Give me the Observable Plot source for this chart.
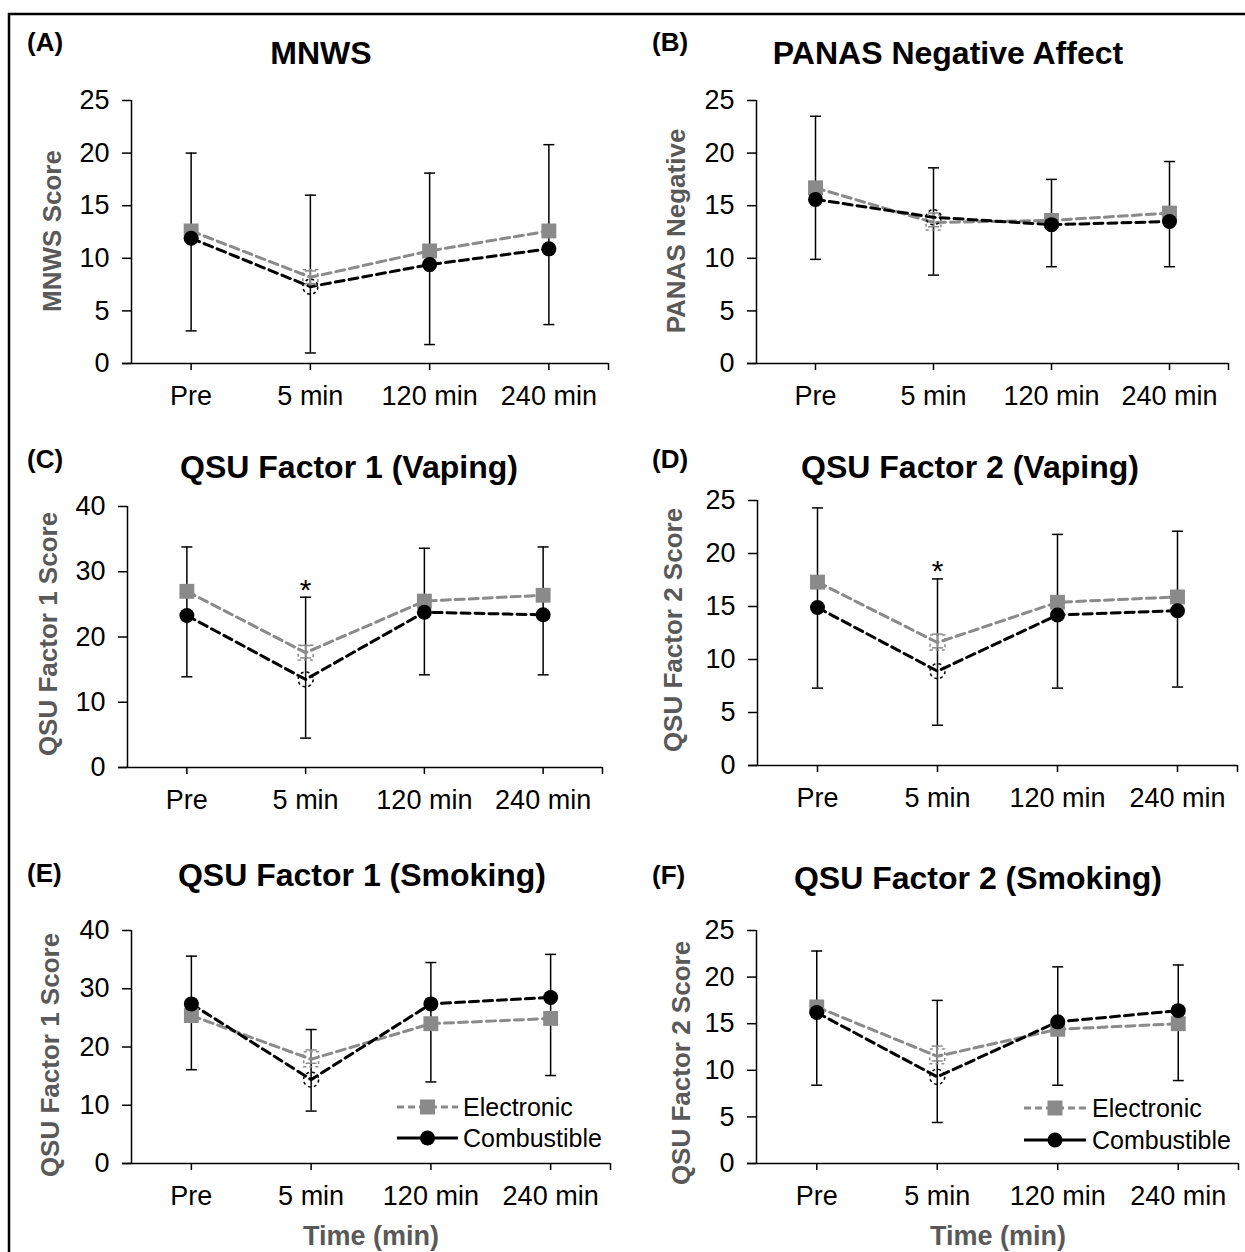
<!DOCTYPE html>
<html>
<head>
<meta charset="utf-8">
<script src="https://cdn.jsdelivr.net/npm/d3@7"></script>
<script src="https://cdn.jsdelivr.net/npm/@observablehq/plot@0.6"></script>
<style>
  body { margin: 0; background: #fff; }
  #fig { position: relative; width: 1245px; height: 1252px; background: #fff; overflow: hidden;
         font-family: "Liberation Sans", Arial, sans-serif; }
  .abs { position: absolute; white-space: nowrap; line-height: 1; }
  .title { font-weight: bold; font-size: 32px; color: #000; transform: translate(-50%, -50%); }
  .letter { font-weight: bold; font-size: 26px; color: #000; transform: translate(0, -50%); }
  .ylab { font-weight: bold; font-size: 26px; color: #595959; transform: translate(-50%, -50%) rotate(-90deg); }
  .xlab { font-weight: bold; font-size: 27px; color: #595959; transform: translate(-50%, -50%); }
  svg.panel { position: absolute; overflow: visible; }
</style>
</head>
<body>
<div id="fig"></div>
<script>
// ---------------- data ----------------
const categories = ["Pre", "5 min", "120 min", "240 min"];
const seriesNames = ["Electronic", "Combustible"];

const panelIds   = ["A", "B", "C", "D", "E", "F"];
const titles     = ["MNWS", "PANAS Negative Affect", "QSU Factor 1 (Vaping)", "QSU Factor 2 (Vaping)", "QSU Factor 1 (Smoking)", "QSU Factor 2 (Smoking)"];
const yLabels    = ["MNWS Score", "PANAS Negative", "QSU Factor 1  Score", "QSU Factor 2  Score", "QSU Factor 1  Score", "QSU Factor 2  Score"];
const yMax       = [25, 25, 40, 25, 40, 25];
const yTickStep  = [5, 5, 10, 5, 10, 5];
const xAxisTitle = [null, null, null, null, "Time (min)", "Time (min)"];

// Electronic (gray squares) means
const elecA = [12.6, 8.2, 10.7, 12.6];
const elecB = [16.7, 13.4, 13.6, 14.3];
const elecC = [27.0, 17.6, 25.5, 26.4];
const elecD = [17.3, 11.6, 15.4, 15.9];
const elecE = [25.4, 17.9, 24.0, 24.9];
const elecF = [16.8, 11.5, 14.4, 15.0];

// Combustible (black circles) means
const combA = [11.9, 7.3, 9.4, 10.9];
const combB = [15.6, 13.9, 13.2, 13.5];
const combC = [23.3, 13.5, 23.8, 23.4];
const combD = [14.9, 8.9, 14.2, 14.6];
const combE = [27.4, 14.4, 27.4, 28.5];
const combF = [16.2, 9.3, 15.2, 16.4];

// Error bars (black): lower / upper ends
const errLoA = [3.1, 1.0, 1.8, 3.7],  errHiA = [20.0, 16.0, 18.1, 20.8];
const errLoB = [9.9, 8.4, 9.2, 9.2],  errHiB = [23.5, 18.6, 17.5, 19.2];
const errLoC = [13.9, 4.5, 14.2, 14.2], errHiC = [33.8, 26.1, 33.6, 33.8];
const errLoD = [7.3, 3.8, 7.3, 7.4],  errHiD = [24.3, 17.6, 21.8, 22.1];
const errLoE = [16.1, 9.0, 14.0, 15.1], errHiE = [35.6, 23.0, 34.5, 35.9];
const errLoF = [8.4, 4.4, 8.4, 8.9],  errHiF = [22.8, 17.5, 21.1, 21.3];

// Small gray error bars of Electronic (visible only at the open 5-min marker)
const eErrLoA = [null, 7.6, null, null],  eErrHiA = [null, 8.8, null, null];
const eErrLoB = [null, 13.0, null, null], eErrHiB = [null, 14.3, null, null];
const eErrLoC = [null, 16.8, null, null], eErrHiC = [null, 18.7, null, null];
const eErrLoD = [null, 11.1, null, null], eErrHiD = [null, 12.4, null, null];
const eErrLoE = [null, 17.2, null, null], eErrHiE = [null, 19.5, null, null];
const eErrLoF = [null, 11.0, null, null], eErrHiF = [null, 12.6, null, null];

// Significance markers (category, y value)
const starCategory = "5 min";
const starValues = [null, null, 28.4, 19.1, null, null];
const openMarkerCategory = "5 min";

const elec = [elecA, elecB, elecC, elecD, elecE, elecF];
const comb = [combA, combB, combC, combD, combE, combF];
const errLo = [errLoA, errLoB, errLoC, errLoD, errLoE, errLoF];
const errHi = [errHiA, errHiB, errHiC, errHiD, errHiE, errHiF];
const eErrLo = [eErrLoA, eErrLoB, eErrLoC, eErrLoD, eErrLoE, eErrLoF];
const eErrHi = [eErrHiA, eErrHiB, eErrHiC, eErrHiD, eErrHiE, eErrHiF];

// ---------------- layout (pixels) ----------------
const layout = [
  {axisX: 131, xEnd: 608,  yTop: 100, y0: 363,  tx: 321, ty: 53,  lx: 27,  ly: 42,  ylx: 52,  yly: 231,  xtx: 0,   xty: 0},
  {axisX: 756, xEnd: 1228, yTop: 100, y0: 363,  tx: 948, ty: 53,  lx: 652, ly: 42,  ylx: 676, yly: 231,  xtx: 0,   xty: 0},
  {axisX: 127, xEnd: 602,  yTop: 506, y0: 767,  tx: 349, ty: 467, lx: 27,  ly: 459, ylx: 48,  yly: 634,  xtx: 0,   xty: 0},
  {axisX: 757, xEnd: 1237, yTop: 500, y0: 765,  tx: 970, ty: 467, lx: 652, ly: 459, ylx: 673, yly: 630,  xtx: 0,   xty: 0},
  {axisX: 131, xEnd: 610,  yTop: 930, y0: 1163, tx: 362, ty: 875, lx: 27,  ly: 873, ylx: 50,  yly: 1055, xtx: 371, xty: 1236,
   legend: {x1: 397, x2: 458, tx: 463, y: [1107, 1138]}},
  {axisX: 756, xEnd: 1238, yTop: 930, y0: 1163, tx: 978, ty: 878, lx: 652, ly: 875, ylx: 681, yly: 1063, xtx: 998, xty: 1236,
   legend: {x1: 1024, x2: 1086, tx: 1092, y: [1108, 1140]}}
];

const GRAY = "#8a8a8a";
const FONT = '"Liberation Sans", Arial, sans-serif';
const fig = document.getElementById("fig");

// horizontal cap symbol for error bars
const capSymbol = {
  draw(context, size) {
    const r = Math.sqrt(size / Math.PI);
    context.moveTo(-r, 0);
    context.lineTo(r, 0);
  }
};

function addDiv(cls, text, x, y) {
  const d = document.createElement("div");
  d.className = "abs " + cls;
  d.textContent = text;
  d.style.left = x + "px";
  d.style.top = y + "px";
  fig.appendChild(d);
  return d;
}

panelIds.forEach((id, p) => {
  const L = layout[p];
  const ml = 72, mr = 14, mt = 20, mb = 62;
  const w = L.xEnd - L.axisX + ml + mr;
  const h = L.y0 - L.yTop + mt + mb;
  const rows = categories.map((c, i) => ({
    c, i,
    e: elec[p][i], k: comb[p][i],
    lo: errLo[p][i], hi: errHi[p][i],
    elo: eErrLo[p][i], ehi: eErrHi[p][i]
  }));
  const isOpen = d => d.c === openMarkerCategory;
  const eBars = rows.filter(d => d.elo != null);
  const stars = starValues[p] != null ? [{i: categories.indexOf(starCategory), y: starValues[p]}] : [];

  const chart = Plot.plot({
    width: w, height: h,
    marginLeft: ml, marginRight: mr, marginTop: mt, marginBottom: mb,
    style: {fontFamily: FONT, fontSize: "27px", color: "#000", background: "transparent", overflow: "visible"},
    x: {type: "linear", domain: [-0.5, categories.length - 0.5]},
    y: {domain: [0, yMax[p]]},
    marks: [
      Plot.axisY({ticks: d3.range(0, yMax[p] + 0.001, yTickStep[p]), tickSize: 9, tickPadding: 13,
                  label: null, strokeWidth: 1.5}),
      Plot.axisX({ticks: [...categories.map((c, i) => i), categories.length - 0.5],
                  tickFormat: d => categories[d] ?? "", tickSize: 7, tickPadding: 15,
                  label: null, strokeWidth: 1.5}),
      Plot.ruleX([-0.5], {stroke: "#000", strokeWidth: 1.5}),
      Plot.ruleY([0], {stroke: "#000", strokeWidth: 1.5, insetLeft: -9}),
      // black error bars
      Plot.ruleX(rows, {x: "i", y1: "lo", y2: "hi", stroke: "#000", strokeWidth: 1.5}),
      Plot.dot(rows, {x: "i", y: "lo", symbol: capSymbol, r: 5.5, fill: "none", stroke: "#000", strokeWidth: 1.5}),
      Plot.dot(rows, {x: "i", y: "hi", symbol: capSymbol, r: 5.5, fill: "none", stroke: "#000", strokeWidth: 1.5}),
      // gray error bars (electronic)
      Plot.ruleX(eBars, {x: "i", y1: "elo", y2: "ehi", stroke: GRAY, strokeWidth: 1.5}),
      Plot.dot(eBars, {x: "i", y: "elo", symbol: capSymbol, r: 5.5, fill: "none", stroke: GRAY, strokeWidth: 1.5}),
      Plot.dot(eBars, {x: "i", y: "ehi", symbol: capSymbol, r: 5.5, fill: "none", stroke: GRAY, strokeWidth: 1.5}),
      // lines
      Plot.line(rows, {x: "i", y: "e", stroke: GRAY, strokeWidth: 3, strokeDasharray: "9,5"}),
      Plot.line(rows, {x: "i", y: "k", stroke: "#000", strokeWidth: 3, strokeDasharray: "9,5"}),
      // markers
      Plot.dot(rows.filter(d => !isOpen(d)), {x: "i", y: "e", symbol: "square", r: 8.4, fill: GRAY, stroke: "none"}),
      Plot.dot(rows.filter(isOpen), {x: "i", y: "e", symbol: "square", r: 8.4, fill: "none", stroke: GRAY,
                                      strokeWidth: 1.5, strokeDasharray: "3,3"}),
      Plot.dot(rows.filter(d => !isOpen(d)), {x: "i", y: "k", r: 7.5, fill: "#000", stroke: "none"}),
      Plot.dot(rows.filter(isOpen), {x: "i", y: "k", r: 7.5, fill: "none", stroke: "#000",
                                      strokeWidth: 1.5, strokeDasharray: "3,3"}),
      // significance asterisk
      Plot.text(stars, {x: "i", y: "y", text: () => "*", fontSize: 30, dy: 8, fill: "#000"})
    ]
  });
  chart.classList.add("panel");
  chart.style.left = (L.axisX - ml) + "px";
  chart.style.top = (L.yTop - mt) + "px";
  fig.appendChild(chart);

  addDiv("title", titles[p], L.tx, L.ty);
  addDiv("letter", "(" + id + ")", L.lx, L.ly);
  addDiv("ylab", yLabels[p], L.ylx, L.yly);
  if (xAxisTitle[p]) addDiv("xlab", xAxisTitle[p], L.xtx, L.xty);

  if (L.legend) {
    const lg = L.legend;
    const svg = d3.select(fig).append("svg")
      .attr("class", "panel")
      .style("left", "0px").style("top", "0px")
      .attr("width", 1245).attr("height", 1252)
      .style("pointer-events", "none");
    const mid = (lg.x1 + lg.x2) / 2;
    // Electronic
    svg.append("line").attr("x1", lg.x1).attr("x2", lg.x2).attr("y1", lg.y[0]).attr("y2", lg.y[0])
      .attr("stroke", GRAY).attr("stroke-width", 3).attr("stroke-dasharray", "7,4");
    svg.append("rect").attr("x", mid - 7.5).attr("y", lg.y[0] - 7.5).attr("width", 15).attr("height", 15).attr("fill", GRAY);
    svg.append("text").attr("x", lg.tx).attr("y", lg.y[0]).attr("dy", "0.35em")
      .attr("font-family", FONT).attr("font-size", 25).attr("fill", "#000").text(seriesNames[0]);
    // Combustible
    svg.append("line").attr("x1", lg.x1).attr("x2", lg.x2).attr("y1", lg.y[1]).attr("y2", lg.y[1])
      .attr("stroke", "#000").attr("stroke-width", 3);
    svg.append("circle").attr("cx", mid).attr("cy", lg.y[1]).attr("r", 7.5).attr("fill", "#000");
    svg.append("text").attr("x", lg.tx).attr("y", lg.y[1]).attr("dy", "0.35em")
      .attr("font-family", FONT).attr("font-size", 25).attr("fill", "#000").text(seriesNames[1]);
  }
});

// figure border (top and left)
const border = d3.select(fig).append("svg")
  .attr("class", "panel").style("left", "0px").style("top", "0px")
  .attr("width", 1245).attr("height", 1252).style("pointer-events", "none");
border.append("path").attr("d", "M9,1252 V14 H1245").attr("fill", "none").attr("stroke", "#000").attr("stroke-width", 2.5);
</script>
</body>
</html>
